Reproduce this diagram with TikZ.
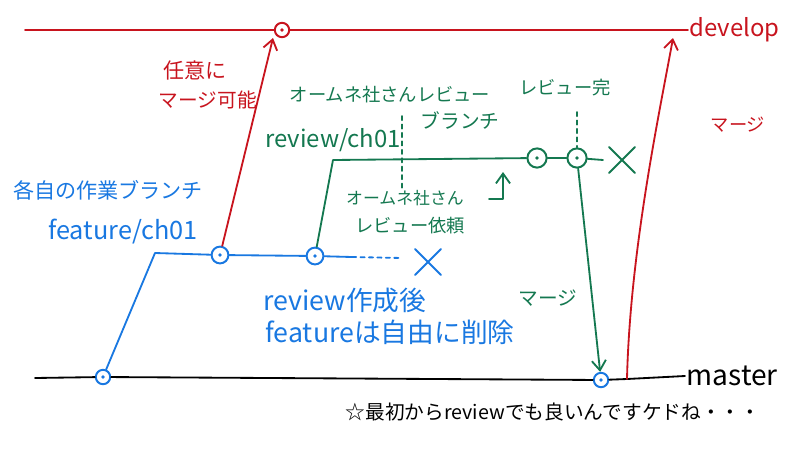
\documentclass[tikz,border=0pt]{standalone}
\usepackage{fontspec}
\setmainfont{Noto Sans CJK JP}
\usetikzlibrary{arrows.meta,shapes.misc}
\definecolor{devred}{RGB}{200,20,30}
\definecolor{featblue}{RGB}{25,120,225}
\definecolor{revgreen}{RGB}{20,120,80}

\begin{document}
\begin{tikzpicture}[x=0.025cm, y=-0.025cm, >={Straight Barb[length=7pt,width=10pt]},
  line cap=round, line join=round,
  branch/.style={line width=1.3pt},
  commit/.style={circle, draw=#1, line width=1.4pt, fill=white, minimum size=0.42cm, inner sep=0pt},
  dot/.style={circle, fill=#1, minimum size=0.09cm, inner sep=0pt},
  xmark/.style={cross out, draw=#1, line width=1.4pt, minimum size=0.6cm, inner sep=0pt},
  lbl/.style={inner sep=1pt}]
  \useasboundingbox (0,0) rectangle (800,448);

  % develop
  \coordinate (dstart) at (25,30);
  \node[commit=devred, minimum size=0.36cm] (d1) at (282,30) {};
  \node[lbl, devred, anchor=west, font=\fontsize{17}{20}\selectfont] (devlabel) at (688,30) {develop};
  \draw[branch, devred] (dstart) -- (d1) -- (devlabel.west);

  % master
  \coordinate (mstart) at (35,378);
  \node[commit=featblue, minimum size=0.36cm] (m1) at (103,377) {};
  \node[commit=featblue, minimum size=0.36cm] (m2) at (601,380) {};
  \coordinate (mr) at (627,379);
  \node[lbl, anchor=west, font=\fontsize{20}{24}\selectfont] (mlabel) at (685,376) {master};
  \draw[branch] (mstart) -- (m1) -- (m2) -- (mr) -- (mlabel.west);

  % feature/ch01
  \coordinate (fcorner) at (155,253);
  \node[commit=featblue] (f1) at (220,255) {};
  \node[commit=featblue] (f2) at (315,256) {};
  \coordinate (fsolid) at (352,257);
  \coordinate (fdash) at (402,258);
  \node[xmark=featblue] (fx) at (428,262) {};
  \draw[branch, featblue] (m1) -- (fcorner) -- (f1) -- (f2) -- (fsolid);
  \draw[branch, featblue, dashed] (fsolid) -- (fdash);

  % review/ch01
  \coordinate (gcorner) at (333,160);
  \node[commit=revgreen, minimum size=0.48cm] (g1) at (537,158) {};
  \node[commit=revgreen, minimum size=0.48cm] (g2) at (577,158) {};
  \coordinate (gend) at (603,160);
  \node[xmark=revgreen] (gx) at (622,160) {};
  \draw[branch, revgreen] (f2) -- (gcorner) -- (g1) -- (g2) -- (gend);
  \draw[branch, revgreen, ->] (g2) -- (m2);
  \coordinate (rtop) at (402,116);
  \coordinate (rbot) at (402,188);
  \draw[branch, revgreen, dashed] (rtop) -- (rbot);
  \coordinate (dtop) at (577,112);
  \draw[branch, revgreen, dashed] (dtop) -- (g2);
  \coordinate (ufoot) at (489,199);
  \coordinate (ucorner) at (503,199);
  \coordinate (uhead) at (503,172);
  \draw[branch, revgreen, ->] (ufoot) -- (ucorner) -- (uhead);

  % scribbled centres
  \foreach \c/\col in {d1/devred, m1/featblue, m2/featblue, f1/featblue, f2/featblue, g1/revgreen, g2/revgreen}
    \node[dot=\col] at (\c) {};

  % merges into develop
  \coordinate (dtip) at (273,38);
  \draw[branch, devred, ->] (f1) -- (dtip);
  \coordinate (drtip) at (673,38);
  \draw[branch, devred, ->] (mr) .. controls (630,250) and (660,110) .. (drtip);

  % labels
  \node[lbl, devred, font=\fontsize{15}{18}\selectfont] (anytime) at (195,70) {任意に};
  \node[lbl, devred, font=\fontsize{14}{17}\selectfont] (canmerge) at (208,100) {マージ可能};
  \node[lbl, devred, font=\fontsize{13}{16}\selectfont] (dmerge) at (738,125) {マージ};
  \node[lbl, featblue, font=\fontsize{15}{18}\selectfont] (eachbr) at (108,190) {各自の作業ブランチ};
  \node[lbl, featblue, font=\fontsize{18}{21}\selectfont] (fname) at (123,232) {feature/ch01};
  \node[lbl, featblue, font=\fontsize{19}{22}\selectfont] (afterrev) at (345,300) {review作成後};
  \node[lbl, featblue, font=\fontsize{19}{22}\selectfont] (delfeat) at (390,332) {featureは自由に削除};
  \node[lbl, revgreen, font=\fontsize{13}{16}\selectfont] (revbr1) at (390,95) {オームネ社さんレビュー};
  \node[lbl, revgreen, font=\fontsize{14}{17}\selectfont] (revbr2) at (460,120) {ブランチ};
  \node[lbl, revgreen, font=\fontsize{17}{20}\selectfont] (rname) at (333,140) {review/ch01};
  \node[lbl, revgreen, font=\fontsize{13}{16}\selectfont] (revdone) at (565,88) {レビュー完};
  \node[lbl, revgreen, font=\fontsize{12}{15}\selectfont] (req1) at (405,198) {オームネ社さん};
  \node[lbl, revgreen, font=\fontsize{13}{16}\selectfont] (req2) at (410,226) {レビュー依頼};
  \node[lbl, revgreen, font=\fontsize{14}{17}\selectfont] (gmerge) at (548,298) {マージ};
  \node[lbl, font=\fontsize{14}{17}\selectfont] (note) at (553,412) {☆最初からreviewでも良いんですケドね・・・};
\end{tikzpicture}
\end{document}
